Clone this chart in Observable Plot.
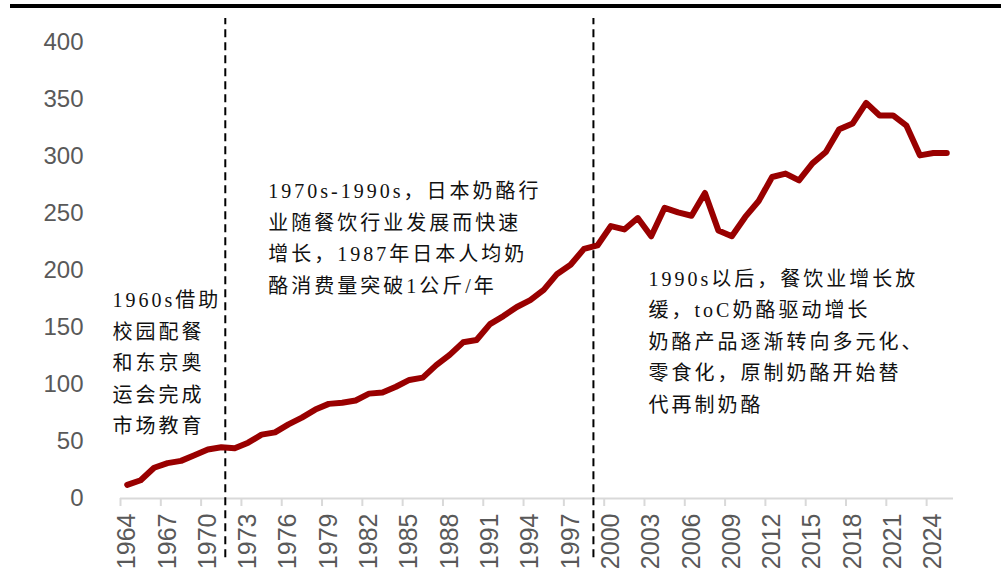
<!DOCTYPE html>
<html>
<head>
<meta charset="utf-8">
<script src="https://cdn.jsdelivr.net/npm/d3@7"></script>
<script src="https://cdn.jsdelivr.net/npm/@observablehq/plot@0.6"></script>
<style>
  html, body { margin: 0; padding: 0; background: #fff; }
  #wrap { position: relative; width: 1005px; height: 587px; overflow: hidden; }
  #topbar { position: absolute; left: 10px; top: 4px; width: 991px; height: 4px; background: #000; }
</style>
</head>
<body>
<div id="wrap"><div id="topbar"></div></div>
<script>
const years = [1964,1965,1966,1967,1968,1969,1970,1971,1972,1973,1974,1975,1976,1977,1978,1979,1980,1981,1982,1983,1984,1985,1986,1987,1988,1989,1990,1991,1992,1993,1994,1995,1996,1997,1998,1999,2000,2001,2002,2003,2004,2005,2006,2007,2008,2009,2010,2011,2012,2013,2014,2015,2016,2017,2018,2019,2020,2021,2022,2023,2024,2025];
const values = [12,16,27,31,33,38,43,45,44,49,56,58,65,71,78,83,84,86,92,93,98,104,106,117,126,137,139,153,160,168,174,183,197,205,219,222,239,236,246,230,255,251,248,268,235,230,247,261,282,285,279,294,304,324,329,347,336,336,327,301,303,303];
const tickLabelYears = [1964,1967,1970,1973,1976,1979,1982,1985,1988,1991,1994,1997,2000,2003,2006,2009,2012,2015,2018,2021,2024];
const yTicks = [0,50,100,150,200,250,300,350,400];
const dividers = [1971.3, 1998.7];
const noteTexts = [
  "1960s借助\n校园配餐\n和东京奥\n运会完成\n市场教育",
  "1970s-1990s，日本奶酪行\n业随餐饮行业发展而快速\n增长，1987年日本人均奶\n酪消费量突破1公斤/年",
  "1990s以后，餐饮业增长放\n缓，toC奶酪驱动增长\n奶酪产品逐渐转向多元化、\n零食化，原制奶酪开始替\n代再制奶酪"
];
const noteX = [1962.9, 1974.5, 2002.8];
const noteY = [121.5, 230.7, 140.4];

const series = years.map((y, i) => ({year: y, value: values[i]}));
const boundaries = tickLabelYears.map(y => y - 0.5);
const notes = noteTexts.map((t, i) => ({x: noteX[i], y: noteY[i], text: t}));

const chart = Plot.plot({
  width: 1005,
  height: 587,
  marginLeft: 120,
  marginRight: 52,
  marginTop: 42,
  marginBottom: 89,
  style: {fontFamily: "'Liberation Sans', Arial, sans-serif", background: "transparent", overflow: "visible"},
  x: {domain: [1963.5, 2025.5], label: null},
  y: {domain: [0, 400], label: null},
  marks: [
    Plot.axisY({ticks: yTicks, tickSize: 0, tickPadding: 37, fontSize: 24, color: "#595959", tickFormat: d => String(d), label: null}),
    Plot.ruleY([0], {stroke: "#d9d9d9", strokeWidth: 2}),
    Plot.axisX({ticks: boundaries, tickSize: 8, stroke: "#d9d9d9", strokeWidth: 2, tickFormat: () => "", label: null}),
    Plot.axisX({ticks: tickLabelYears, tickSize: 0, tickPadding: 15, tickRotate: -90, fontSize: 25, color: "#595959", tickFormat: d => String(d), label: null}),
    Plot.ruleX(dividers, {y1: -52, y2: 421, stroke: "#000", strokeWidth: 2, strokeDasharray: "8,5", clip: false}),
    Plot.line(series, {x: "year", y: "value", stroke: "#990000", strokeWidth: 6, strokeLinejoin: "round", strokeLinecap: "round"}),
    Plot.text(notes, {x: "x", y: "y", text: "text", textAnchor: "start", lineAnchor: "middle", lineHeight: 1.575, fontSize: 20, fill: "#111", fontFamily: "'Liberation Serif', 'Noto Sans CJK SC', serif"})
  ]
});
d3.select(chart).selectAll('g[aria-label="text"] text').attr("letter-spacing", 3);
chart.style.position = "absolute";
chart.style.left = "0px";
chart.style.top = "0px";
document.getElementById("wrap").insertBefore(chart, document.getElementById("topbar"));
</script>
</body>
</html>
